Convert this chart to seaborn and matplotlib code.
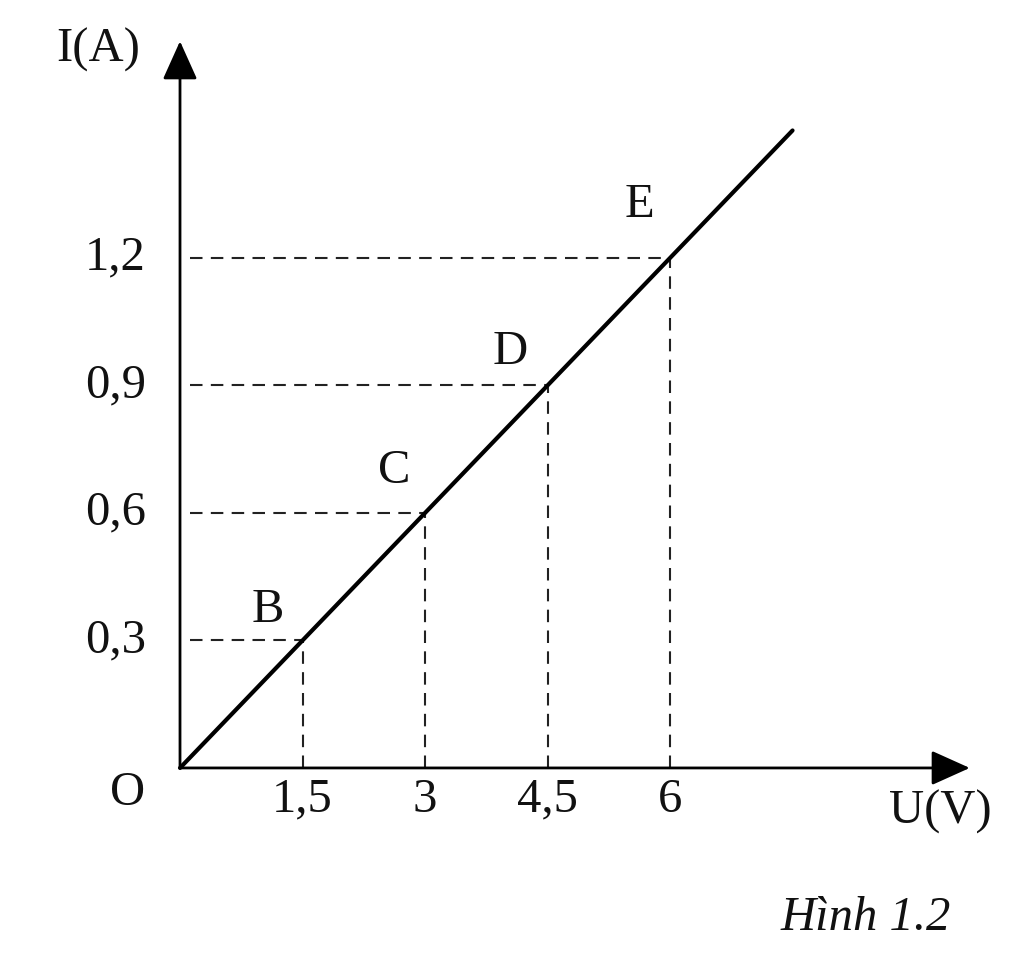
import pandas as pd
import seaborn as sns
import matplotlib.pyplot as plt

# Data
voltage = [0, 1.5, 3, 4.5, 6, 7.5]
current = [0, 0.3, 0.6, 0.9, 1.2, 1.5]
point_names = ['B', 'C', 'D', 'E']
point_u = [1.5, 3, 4.5, 6]
point_i = [0.3, 0.6, 0.9, 1.2]
x_ticks = [1.5, 3, 4.5, 6]
x_labels = ['1,5', '3', '4,5', '6']
y_ticks = [0.3, 0.6, 0.9, 1.2]
y_labels = ['0,3', '0,6', '0,9', '1,2']

df = pd.DataFrame({'U': voltage, 'I': current})

sns.set_style('white')
plt.rcParams['font.family'] = ['Liberation Serif', 'DejaVu Serif']
plt.rcParams['text.color'] = '#111111'

fig = plt.figure(figsize=(10.24, 9.66), dpi=100)
ax = fig.add_axes([0, 0, 1, 1])
ax.set_xlim(-2.204, 10.334)
ax.set_ylim(-0.466, 1.807)
ax.axis('off')

# axes with arrow heads
arrow = dict(arrowstyle='-|>,head_length=0.6,head_width=0.27', mutation_scale=40,
             color='black', lw=2, shrinkA=0, shrinkB=0)
ax.annotate('', xy=(9.67, 0), xytext=(0, 0), arrowprops=arrow)
ax.annotate('', xy=(0, 1.71), xytext=(0, 0), arrowprops=arrow)

# dashed guide lines
for u, i in zip(point_u, point_i):
    ax.plot([0.12, u], [i, i], color='#222222', lw=1.5, dashes=(6, 4))
    ax.plot([u, u], [0, i], color='#222222', lw=1.5, dashes=(6, 4))

# the characteristic line
sns.lineplot(data=df, x='U', y='I', ax=ax, color='black', lw=3, zorder=5)

fs = 35
offsets = {'B': (-25, 22), 'C': (-22, 30), 'D': (-27, 24), 'E': (-22, 38)}
for name, u, i in zip(point_names, point_u, point_i):
    ax.annotate(name, xy=(u, i), xytext=offsets[name], textcoords='offset points',
                ha='center', va='center', fontsize=fs)

for t, lab in zip(x_ticks, x_labels):
    ax.text(t, -0.075, lab, ha='center', va='center', fontsize=fs)
for t, lab in zip(y_ticks, y_labels):
    ax.text(-0.42, t, lab, ha='right', va='center', fontsize=fs)

ax.text(-0.64, -0.059, 'O', ha='center', va='center', fontsize=fs)
ax.text(-1.0, 1.69, 'I(A)', ha='center', va='center', fontsize=fs)
ax.text(9.31, -0.104, 'U(V)', ha='center', va='center', fontsize=fs)
ax.text(8.39, -0.353, 'Hình 1.2', ha='center', va='center', fontsize=fs,
        style='italic')

fig.savefig('out.png', dpi=100)
